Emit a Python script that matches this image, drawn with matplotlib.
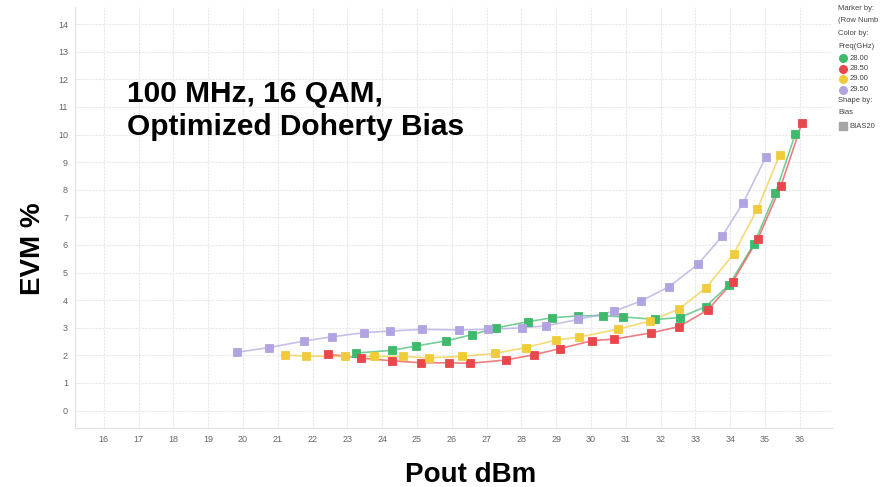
import numpy as np
import matplotlib
matplotlib.use("Agg")
import matplotlib.pyplot as plt
from matplotlib.lines import Line2D

plt.rcParams['font.family'] = ['Liberation Sans', 'DejaVu Sans']

# Pout (dBm) / EVM (%) per frequency
pout_2800 = [23.24, 24.27, 24.98, 25.82, 26.59, 27.26, 28.19, 28.88, 29.63, 30.33, 30.93, 31.85,
             32.55, 33.29, 33.97, 34.68, 35.30, 35.87]
evm_2800 = [2.08, 2.18, 2.34, 2.52, 2.75, 2.99, 3.22, 3.36, 3.43, 3.44, 3.39, 3.30,
            3.37, 3.76, 4.56, 6.03, 7.88, 10.02]

pout_2850 = [22.44, 23.39, 24.29, 25.10, 25.93, 26.52, 27.55, 28.35, 29.10, 30.03, 30.67, 31.72,
             32.53, 33.36, 34.07, 34.80, 35.46, 36.06]
evm_2850 = [2.04, 1.90, 1.80, 1.73, 1.73, 1.71, 1.83, 2.02, 2.24, 2.53, 2.59, 2.81,
            3.04, 3.65, 4.66, 6.23, 8.15, 10.42]

pout_2900 = [21.22, 21.82, 22.93, 23.76, 24.59, 25.34, 26.28, 27.24, 28.13, 28.98, 29.66, 30.78,
             31.69, 32.52, 33.30, 34.10, 34.78, 35.42]
evm_2900 = [2.01, 1.97, 1.96, 1.96, 1.96, 1.91, 1.96, 2.07, 2.28, 2.55, 2.66, 2.95,
            3.24, 3.67, 4.44, 5.68, 7.30, 9.26]

pout_2950 = [19.83, 20.74, 21.76, 22.55, 23.47, 24.22, 25.15, 26.22, 27.05, 28.03, 28.72, 29.63,
             30.65, 31.44, 32.25, 33.08, 33.77, 34.37, 35.02]
evm_2950 = [2.11, 2.28, 2.52, 2.67, 2.82, 2.88, 2.94, 2.92, 2.94, 3.00, 3.07, 3.30,
            3.59, 3.97, 4.49, 5.31, 6.32, 7.52, 9.17]

freqs = ['28.00', '28.50', '29.00', '29.50']
colors = ['#3dba6c', '#e8474c', '#f0cc3c', '#b2a4e2']
series = [(pout_2800, evm_2800), (pout_2850, evm_2850), (pout_2900, evm_2900), (pout_2950, evm_2950)]

xticks = list(range(16, 37))
yticks = list(range(0, 15))

fig = plt.figure(figsize=(8.84, 4.87), dpi=100)
ax = fig.add_axes([0.0848, 0.1211, 0.941 - 0.0848, 0.9856 - 0.1211])

for (x, y), c in zip(series, colors):
    ax.plot(x, y, color=c, lw=1.2, alpha=0.7, zorder=2)
    ax.plot(x, y, ls='none', marker='s', ms=5.8, mfc=c, mec=c, mew=0.6, zorder=3)

ax.set_xlim(15.17, 36.92)
ax.set_ylim(-0.634, 14.62)
ax.set_xticks(xticks)
ax.set_yticks(yticks)
ax.tick_params(length=0, labelsize=6.5, colors='#666666', pad=5)
ax.grid(True, color='#e8e8e8', lw=0.8, ls=(0, (2, 1)))
ax.set_axisbelow(True)
for s in ['top', 'right']:
    ax.spines[s].set_visible(False)
for s in ['left', 'bottom']:
    ax.spines[s].set_color('#e0e0e0')

fig.text(0.1437, 0.8350, '100 MHz, 16 QAM,\nOptimized Doherty Bias', fontsize=21.5,
         fontweight='bold', va='top', ha='left', linespacing=1.2)
fig.text(0.037, 0.49, 'EVM %', fontsize=20, fontweight='bold', rotation=90, ha='center', va='center')
fig.text(0.532, 0.024, 'Pout dBm', fontsize=20, fontweight='bold', ha='center', va='center')

# legend panel, top right
lx = 0.948
def ftxt(y, s):
    fig.text(lx, 1 - y / 487, s, fontsize=5.5, color='#444444', va='center', ha='left')

ftxt(8, 'Marker by:')
ftxt(20, '(Row Numb')
ftxt(33, 'Color by:')
ftxt(46, 'Freq(GHz)')
for i, (f, c) in enumerate(zip(freqs, colors)):
    yy = 58 + i * 10.5
    fig.add_artist(Line2D([lx + 0.006], [1 - yy / 487], marker='o', ms=5.5, color=c, ls='none',
                          transform=fig.transFigure))
    fig.text(lx + 0.013, 1 - yy / 487, f, fontsize=5.5, color='#444444', va='center', ha='left')
ftxt(101, 'Shape by:')
ftxt(113, 'Bias')
fig.add_artist(Line2D([lx + 0.006], [1 - 126 / 487], marker='s', ms=5.5, color='#a6a6a6', ls='none',
                      transform=fig.transFigure))
fig.text(lx + 0.013, 1 - 126 / 487, 'BIAS20', fontsize=5.5, color='#444444', va='center', ha='left')

fig.savefig('out.png', dpi=100)
